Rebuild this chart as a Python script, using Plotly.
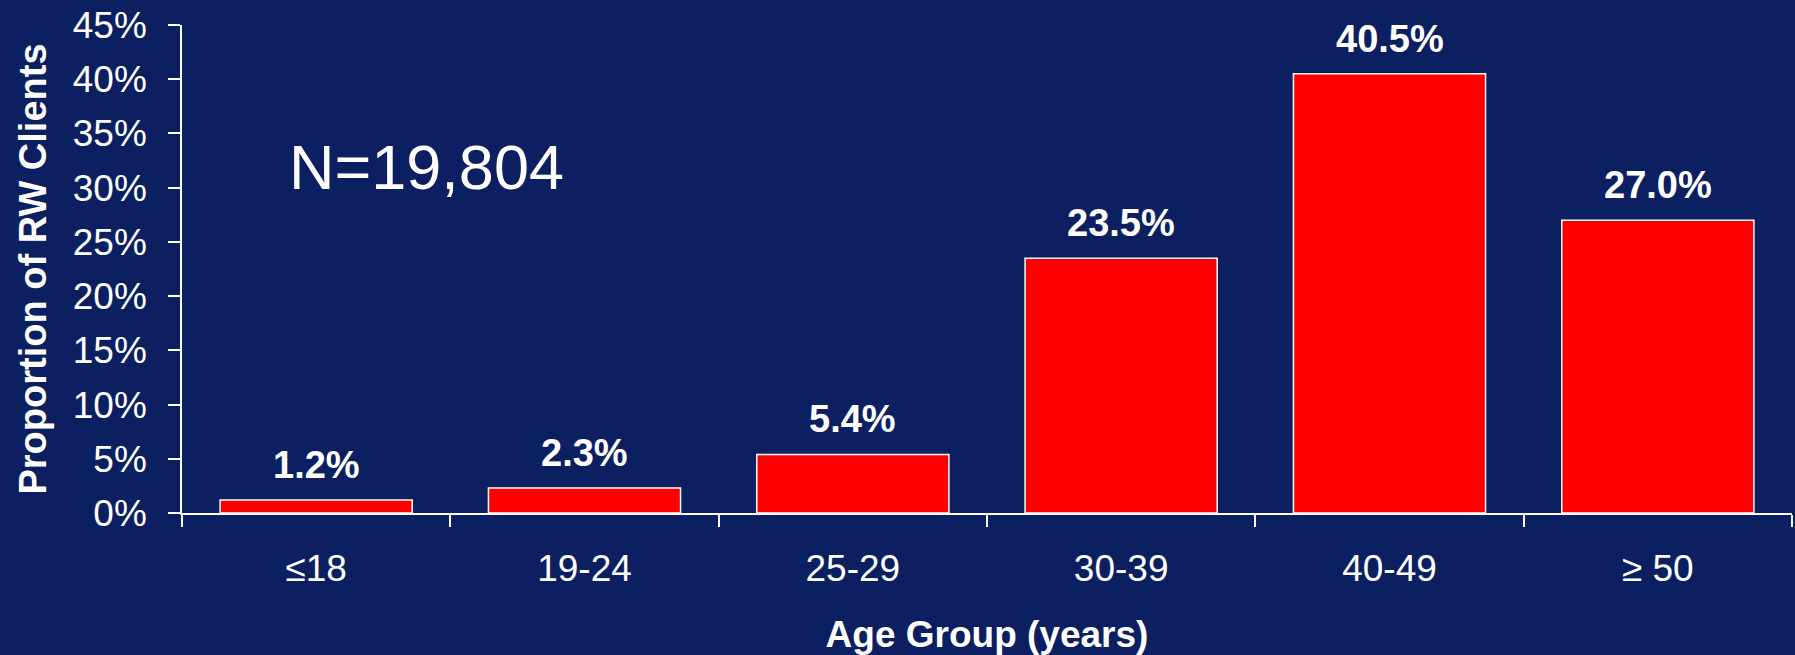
import plotly.graph_objects as go

# Age distribution of RW clients
age_groups = ["≤18", "19-24", "25-29", "30-39", "40-49", "≥ 50"]
proportions = [1.2, 2.3, 5.4, 23.5, 40.5, 27.0]
y_ticks = [0, 5, 10, 15, 20, 25, 30, 35, 40, 45]
y_tick_labels = [f"{v}%" for v in y_ticks]
total_n = "N=19,804"

NAVY = "rgb(11,31,97)"
FONT = "Arial, Liberation Sans, sans-serif"

fig = go.Figure()
fig.add_trace(go.Bar(
    x=age_groups,
    y=proportions,
    marker=dict(color="#FF0000", line=dict(color="white", width=1.5)),
    hoverinfo="skip",
))

# value labels above each bar
for cat, val in zip(age_groups, proportions):
    fig.add_annotation(
        x=cat, y=val, text=f"<b>{val:.1f}%</b>",
        showarrow=False, yanchor="bottom", yshift=12,
        font=dict(family=FONT, size=38, color="white"),
    )

fig.add_annotation(
    xref="paper", yref="paper", x=0.1516, y=0.71,
    text=total_n, showarrow=False, xanchor="center", yanchor="middle",
    font=dict(family=FONT, size=63, color="white"),
)

fig.update_layout(
    width=1795, height=655,
    margin=dict(l=182, r=3, t=25, b=142),
    paper_bgcolor=NAVY, plot_bgcolor=NAVY,
    bargap=0.284,
    showlegend=False,
    font=dict(family=FONT, color="white"),
)

fig.update_xaxes(
    type="category",
    showline=True, linecolor="white", linewidth=1.5,
    ticks="outside", tickson="boundaries", ticklen=12, tickwidth=1.5, tickcolor="white",
    tickfont=dict(family=FONT, size=37, color="white"),
    ticklabelstandoff=22,
    showgrid=False, zeroline=False,
    title=dict(text="<b>Age Group (years)</b>", font=dict(family=FONT, size=37, color="white"), standoff=34),
    automargin=False,
)

fig.update_yaxes(
    range=[0, 45],
    tickvals=y_ticks, ticktext=y_tick_labels,
    showline=True, linecolor="white", linewidth=1.5,
    ticks="outside", ticklen=12, tickwidth=1.5, tickcolor="white",
    tickfont=dict(family=FONT, size=37, color="white"),
    ticklabelstandoff=14,
    showgrid=False, zeroline=False,
    title=dict(text="<b>Proportion of RW Clients</b>", font=dict(family=FONT, size=38, color="white"), standoff=14),
    automargin=False,
)

fig.write_html("out.html")
